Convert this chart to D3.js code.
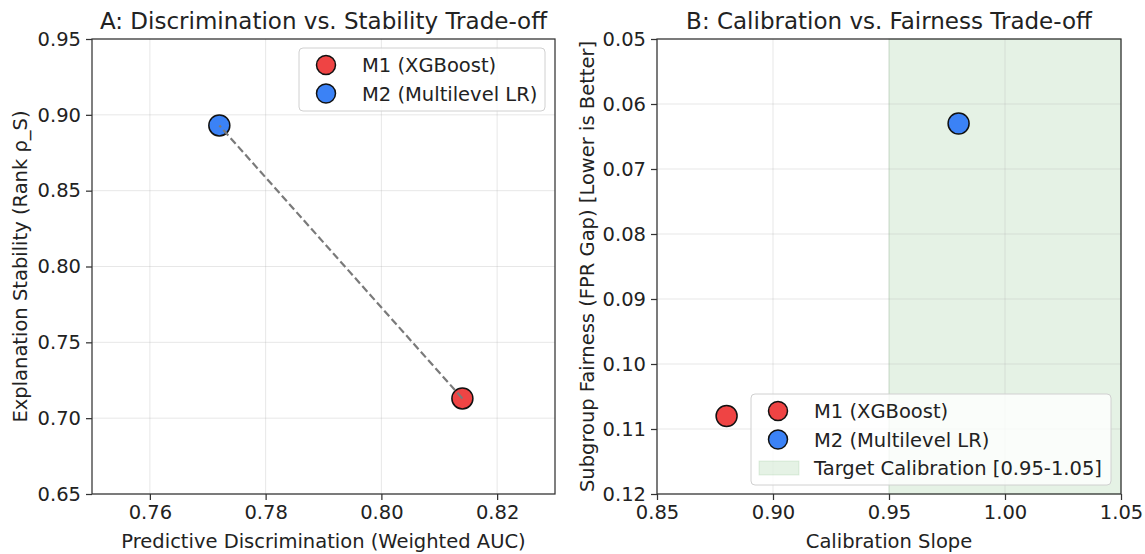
<!DOCTYPE html>
<html>
<head>
<meta charset="utf-8">
<script src="https://cdn.jsdelivr.net/npm/d3@7"></script>
<style>
  body { margin: 0; background: #fff; }
  svg { font-family: "DejaVu Sans", sans-serif; }
</style>
</head>
<body>
<div id="chart"></div>
<script>
// model results
const models = ["M1 (XGBoost)", "M2 (Multilevel LR)"];
const modelColors = ["#ef4444", "#3b82f6"];
const auc = [0.814, 0.772];
const stability = [0.713, 0.893];
const calSlope = [0.880, 0.980];
const fprGap = [0.108, 0.063];
const targetBand = [0.95, 1.05];

const ticksA_x = [0.76, 0.78, 0.80, 0.82];
const ticksA_y = [0.65, 0.70, 0.75, 0.80, 0.85, 0.90, 0.95];
const ticksB_x = [0.85, 0.90, 0.95, 1.00, 1.05];
const ticksB_y = [0.05, 0.06, 0.07, 0.08, 0.09, 0.10, 0.11, 0.12];

function main() {
    const svg = d3.select("#chart").append("svg")
        .attr("width", 1145)
        .attr("height", 554);

    const top = 39, bottom = 494;
    const fs = 19.5;

    function panel(opts) {
        const x = d3.scaleLinear().domain(opts.xDomain).range([opts.left, opts.right]);
        const y = d3.scaleLinear().domain(opts.yDomain).range([bottom, top]);
        const g = svg.append("g");

        if (opts.band) {
            g.append("rect")
                .attr("x", x(opts.band[0]))
                .attr("y", top)
                .attr("width", x(opts.band[1]) - x(opts.band[0]))
                .attr("height", bottom - top)
                .attr("fill", "#008000").attr("fill-opacity", 0.1)
                .attr("stroke", "#008000").attr("stroke-opacity", 0.12);
        }

        // grid
        g.append("g").selectAll("line").data(opts.xTicks).join("line")
            .attr("x1", d => x(d)).attr("x2", d => x(d))
            .attr("y1", top).attr("y2", bottom)
            .attr("stroke", "#b0b0b0").attr("stroke-opacity", 0.3);
        g.append("g").selectAll("line").data(opts.yTicks).join("line")
            .attr("x1", opts.left).attr("x2", opts.right)
            .attr("y1", d => y(d)).attr("y2", d => y(d))
            .attr("stroke", "#b0b0b0").attr("stroke-opacity", 0.3);

        // axes
        const ax = g.append("g")
            .attr("transform", "translate(0," + bottom + ")")
            .call(d3.axisBottom(x).tickValues(opts.xTicks).tickFormat(d3.format(".2f")).tickSize(6).tickPadding(5));
        const ay = g.append("g")
            .attr("transform", "translate(" + opts.left + ",0)")
            .call(d3.axisLeft(y).tickValues(opts.yTicks).tickFormat(d3.format(".2f")).tickSize(6).tickPadding(5));
        [ax, ay].forEach(a => {
            a.select(".domain").remove();
            a.selectAll("line").attr("stroke", "#333").attr("stroke-width", 1.25);
            a.selectAll("text").attr("font-size", fs).attr("fill", "#222")
                .attr("font-family", "DejaVu Sans");
        });

        // frame
        g.append("rect")
            .attr("x", opts.left).attr("y", top)
            .attr("width", opts.right - opts.left).attr("height", bottom - top)
            .attr("fill", "none").attr("stroke", "#333").attr("stroke-width", 1.25);

        // titles and labels
        const cx = (opts.left + opts.right) / 2;
        g.append("text").attr("x", cx).attr("y", 29)
            .attr("text-anchor", "middle").attr("font-size", 23).attr("fill", "#222")
            .text(opts.title);
        g.append("text").attr("x", cx).attr("y", 548)
            .attr("text-anchor", "middle").attr("font-size", fs).attr("fill", "#222")
            .text(opts.xLabel);
        g.append("text")
            .attr("transform", "translate(" + opts.yLabelX + "," + (top + bottom) / 2 + ") rotate(-90)")
            .attr("text-anchor", "middle").attr("font-size", fs).attr("fill", "#222")
            .text(opts.yLabel);

        return { g, x, y };
    }

    // Panel A
    const A = panel({
        left: 92, right: 555,
        xDomain: [0.75, 0.83], yDomain: [0.65, 0.95],
        xTicks: ticksA_x, yTicks: ticksA_y,
        title: "A: Discrimination vs. Stability Trade-off",
        xLabel: "Predictive Discrimination (Weighted AUC)",
        yLabel: "Explanation Stability (Rank \u03C1_S)",
        yLabelX: 27
    });

    A.g.selectAll("circle.pt").data(models).join("circle")
        .attr("class", "pt")
        .attr("cx", (d, i) => A.x(auc[i]))
        .attr("cy", (d, i) => A.y(stability[i]))
        .attr("r", 10.5)
        .attr("fill", (d, i) => modelColors[i])
        .attr("stroke", "#111").attr("stroke-width", 1.5);

    A.g.append("line")
        .attr("x1", A.x(auc[0])).attr("y1", A.y(stability[0]))
        .attr("x2", A.x(auc[1])).attr("y2", A.y(stability[1]))
        .attr("stroke", "#7a7a7a").attr("stroke-width", 2.2)
        .attr("stroke-dasharray", "7.5,3.5");

    // Panel B
    const B = panel({
        left: 657, right: 1121,
        xDomain: [0.85, 1.05], yDomain: [0.12, 0.05],
        xTicks: ticksB_x, yTicks: ticksB_y,
        title: "B: Calibration vs. Fairness Trade-off",
        xLabel: "Calibration Slope",
        yLabel: "Subgroup Fairness (FPR Gap) [Lower is Better]",
        yLabelX: 594,
        band: targetBand
    });

    B.g.selectAll("circle.pt").data(models).join("circle")
        .attr("class", "pt")
        .attr("cx", (d, i) => B.x(calSlope[i]))
        .attr("cy", (d, i) => B.y(fprGap[i]))
        .attr("r", 10.5)
        .attr("fill", (d, i) => modelColors[i])
        .attr("stroke", "#111").attr("stroke-width", 1.5);

    // legends
    function legend(x0, y0, w, h, withBand) {
        const lg = svg.append("g").attr("transform", "translate(" + x0 + "," + y0 + ")");
        lg.append("rect").attr("width", w).attr("height", h).attr("rx", 4)
            .attr("fill", "#fff").attr("fill-opacity", 0.8)
            .attr("stroke", "#d0d0d0");
        const rows = models.slice();
        if (withBand) rows.push("Target Calibration [0.95-1.05]");
        rows.forEach((r, i) => {
            const cy = 17 + i * 28.5;
            if (i < models.length) {
                lg.append("circle").attr("cx", 27).attr("cy", cy).attr("r", 9.5)
                    .attr("fill", modelColors[i]).attr("stroke", "#111").attr("stroke-width", 1.5);
            } else {
                lg.append("rect").attr("x", 8).attr("y", cy - 7).attr("width", 40).attr("height", 14)
                    .attr("fill", "#008000").attr("fill-opacity", 0.1)
                    .attr("stroke", "#008000").attr("stroke-opacity", 0.1);
            }
            lg.append("text").attr("x", 63).attr("y", cy + 7)
                .attr("font-size", fs).attr("fill", "#222").text(r);
        });
    }
    legend(299, 48, 246, 63, false);
    legend(751, 394, 360, 91, true);
}
main();
</script>
</body>
</html>
